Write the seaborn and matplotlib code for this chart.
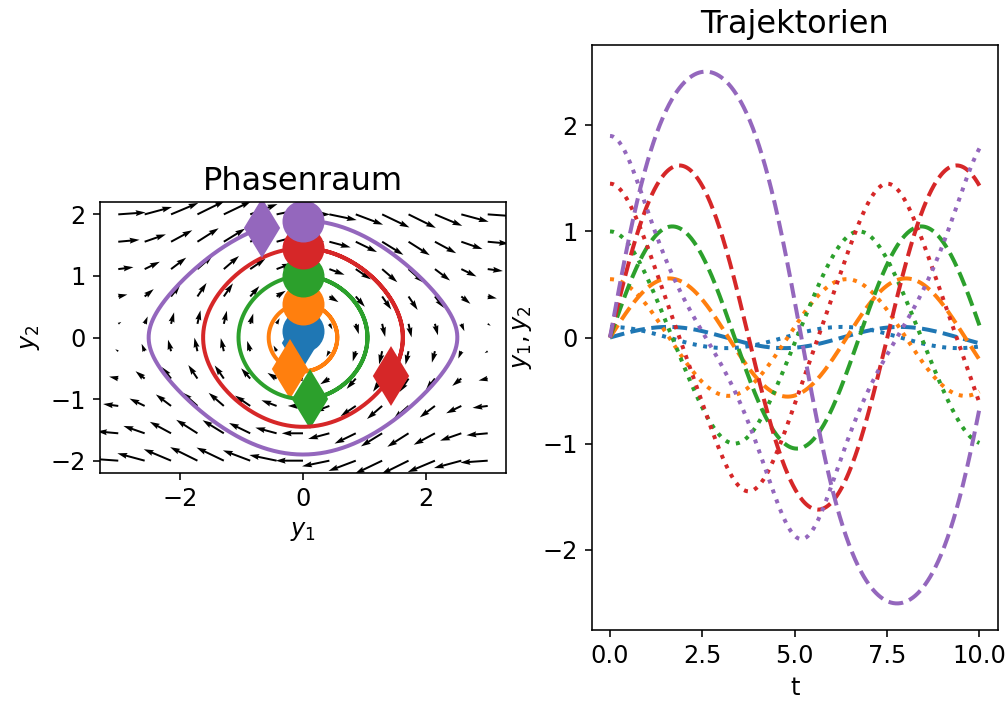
import numpy as np
import seaborn as sns
import matplotlib
matplotlib.use('Agg')
import matplotlib.pyplot as plt

plt.rcParams['font.size'] = 12
plt.rcParams['axes.titlesize'] = 16

# initial velocities read from the circles (all start at y1 = 0)
y1_start = [0.0, 0.0, 0.0, 0.0, 0.0]
y2_start = [0.1, 0.55, 1.0, 1.45, 1.9]
colors = ['#1f77b4', '#ff7f0e', '#2ca02c', '#d62728', '#9467bd']
t_end = 10.0
n_steps = 600

# quiver grid
grid_y1 = np.linspace(-3, 3, 15)
grid_y2 = np.linspace(-2, 2, 10)


def rhs(y):
    # mathematical pendulum y1' = y2, y2' = -sin(y1)
    return np.array([y[1], -np.sin(y[0])])


def integrate(y0, t):
    out = np.zeros((len(t), 2))
    out[0] = y0
    for i in range(1, len(t)):
        h = t[i] - t[i - 1]
        y = out[i - 1]
        k1 = rhs(y)
        k2 = rhs(y + h / 2 * k1)
        k3 = rhs(y + h / 2 * k2)
        k4 = rhs(y + h * k3)
        out[i] = y + h / 6 * (k1 + 2 * k2 + 2 * k3 + k4)
    return out


t = np.linspace(0, t_end, n_steps + 1)

fig, (ax1, ax2) = plt.subplots(1, 2, figsize=(7, 709 / 144), dpi=144)
fig.subplots_adjust(left=0.099, right=0.99, top=0.9365, bottom=0.1114, wspace=0.21)

Y1, Y2 = np.meshgrid(grid_y1, grid_y2)
ax1.quiver(Y1, Y2, Y2, -np.sin(Y1))

for a, b, c in zip(y1_start, y2_start, colors):
    sol = integrate(np.array([a, b]), t)
    sns.lineplot(x=sol[:, 0], y=sol[:, 1], ax=ax1, color=c, lw=2, sort=False, estimator=None)
    ax1.plot(sol[0, 0], sol[0, 1], 'o', ms=20, color=c)
    ax1.plot(sol[-1, 0], sol[-1, 1], 'd', ms=20, color=c)

    sns.lineplot(x=t, y=sol[:, 0], ax=ax2, color=c, lw=2, linestyle='--')
    sns.lineplot(x=t, y=sol[:, 1], ax=ax2, color=c, lw=2, linestyle=':')

ax1.set_aspect('equal')
ax1.set_title('Phasenraum')
ax1.set_xlabel('$y_1$')
ax1.set_ylabel('$y_2$')

ax2.set_title('Trajektorien')
ax2.set_xlabel('t')
ax2.set_ylabel('$y_1, y_2$')

fig.savefig('out.png', dpi=144)
